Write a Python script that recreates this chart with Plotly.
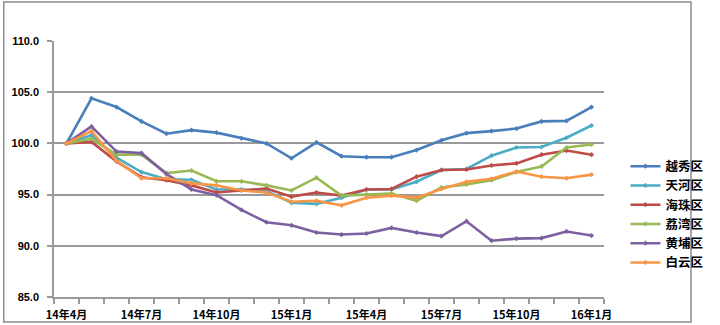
import plotly.graph_objects as go

# Monthly index series (2014-04 = 100) for six Guangzhou districts
months = ["14年4月", "14年5月", "14年6月", "14年7月", "14年8月", "14年9月",
          "14年10月", "14年11月", "14年12月", "15年1月", "15年2月", "15年3月",
          "15年4月", "15年5月", "15年6月", "15年7月", "15年8月", "15年9月",
          "15年10月", "15年11月", "15年12月", "16年1月"]

yuexiu = [100.0, 104.4, 103.55, 102.15, 100.95, 101.3, 101.05, 100.5, 100.0, 98.55, 100.1,
          98.75, 98.65, 98.65, 99.35, 100.3, 101.0, 101.2, 101.45, 102.15, 102.2, 103.55]
tianhe = [100.0, 100.8, 98.6, 97.2, 96.5, 96.45, 95.5, 95.5, 95.35, 94.2, 94.1,
          94.7, 95.5, 95.5, 96.25, 97.4, 97.5, 98.8, 99.6, 99.65, 100.55, 101.75]
haizhu = [100.0, 100.15, 98.25, 96.7, 96.4, 95.9, 95.2, 95.4, 95.6, 94.8, 95.2,
          94.9, 95.5, 95.55, 96.75, 97.4, 97.45, 97.85, 98.05, 98.9, 99.3, 98.9]
liwan = [100.0, 100.45, 98.9, 98.9, 97.1, 97.35, 96.3, 96.3, 95.9, 95.4, 96.65,
         94.9, 95.0, 95.1, 94.4, 95.7, 96.0, 96.4, 97.2, 97.75, 99.6, 99.9]
huangpu = [100.0, 101.65, 99.2, 99.05, 97.0, 95.5, 94.95, 93.5, 92.3, 92.0, 91.3,
           91.1, 91.2, 91.75, 91.3, 90.95, 92.4, 90.5, 90.7, 90.75, 91.4, 91.0]
baiyun = [100.0, 101.2, 98.3, 96.6, 96.6, 96.1, 95.9, 95.4, 95.2, 94.3, 94.4,
          93.95, 94.7, 94.9, 94.7, 95.55, 96.25, 96.55, 97.25, 96.75, 96.6, 96.95]

series = [
    ("越秀区", yuexiu, "#4A7EBB"),
    ("天河区", tianhe, "#4BACC6"),
    ("海珠区", haizhu, "#BE4B48"),
    ("荔湾区", liwan, "#98B954"),
    ("黄埔区", huangpu, "#7D60A0"),
    ("白云区", baiyun, "#F79646"),
]

label_step = 3
x_idx = list(range(len(months)))

fig = go.Figure()
for name, vals, color in series:
    fig.add_trace(go.Scatter(
        x=x_idx, y=vals, name=name, mode="lines+markers",
        line=dict(color=color, width=2.6),
        marker=dict(symbol="diamond", size=4, color=color),
    ))

grid_col = "#9a9a9a"
cjk = "Noto Sans CJK SC"

fig.update_layout(
    width=720, height=325,
    margin=dict(l=54, r=97, t=41, b=28),
    paper_bgcolor="white", plot_bgcolor="white",
    showlegend=True,
    legend=dict(
        x=1.039, xanchor="left", y=0.568, yanchor="top",
        font=dict(family=cjk, size=12.5, color="#000000", weight="bold"),
        tracegroupgap=0, itemwidth=30, bgcolor="rgba(0,0,0,0)",
    ),
    xaxis=dict(
        range=[-0.5, len(months) - 0.5], automargin=False,
        tickvals=x_idx[::label_step], ticktext=months[::label_step],
        ticks="", showgrid=False, zeroline=False, ticklabelstandoff=7,
        showline=True, linecolor=grid_col, linewidth=1.5,
        tickfont=dict(family=cjk, size=11, color="#000000", weight="bold"),
        minor=dict(tick0=-0.5, dtick=1, ticks="outside", ticklen=5,
                   tickcolor=grid_col, tickwidth=1.5, showgrid=False),
        fixedrange=True,
    ),
    yaxis=dict(
        range=[85, 110], dtick=5, tickformat=".1f", automargin=False,
        ticks="outside", ticklen=5, tickcolor=grid_col, tickwidth=1.5,
        ticklabelstandoff=6,
        showgrid=True, gridcolor=grid_col, gridwidth=1.5, zeroline=False,
        showline=True, linecolor=grid_col, linewidth=1.5,
        tickfont=dict(family="Liberation Sans", size=11, color="#000000", weight="bold"),
        fixedrange=True,
    ),
)

# outer chart frame
fig.add_shape(type="rect", xref="paper", yref="paper",
              x0=-52 / 569, x1=659 / 569, y0=-25 / 256, y1=295 / 256,
              line=dict(color="#8c8c8c", width=1.5), fillcolor="rgba(0,0,0,0)")

fig.write_html("out.html")
